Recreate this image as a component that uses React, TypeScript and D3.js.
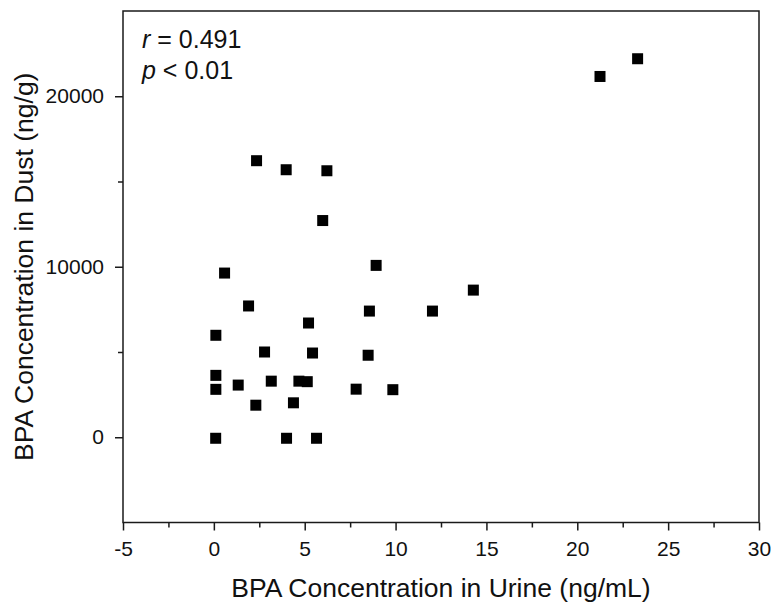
import React, { useEffect, useRef } from 'react';
import * as d3 from 'd3';

// BPA in urine (ng/mL) vs BPA in dust (ng/g)
const urine = [
  0.1, 4.0, 5.65, 0.59, 8.93, 1.91, 8.56, 12.03, 5.21, 0.11, 2.79, 5.43, 8.49,
  0.11, 0.11, 1.34, 3.16, 4.68, 5.14, 7.83, 9.85, 2.31, 4.38, 2.35, 3.98, 6.22,
  5.99, 23.32, 21.25, 14.28,
];
const dust = [
  -60, -60, -60, 9630, 10080, 7700, 7400, 7400, 6700, 5980, 5000, 4940, 4810,
  3630, 2810, 3060, 3290, 3290, 3260, 2820, 2790, 1880, 2020, 16220, 15690, 15630,
  12710, 22200, 21160, 8630,
];

const xMajor = [-5, 0, 5, 10, 15, 20, 25, 30];
const xMinor = [-2.5, 2.5, 7.5, 12.5, 17.5, 22.5, 27.5];
const yMajor = [0, 10000, 20000];
const yMinor = [5000, 15000];

const Chart = () => {
  const ref = useRef<SVGSVGElement>(null);

  useEffect(() => {
    const width = 773;
    const height = 603;
    const margin = { top: 11, right: 14, bottom: 80.5, left: 123 };
    const font = 'Liberation Sans, Arial, sans-serif';

    const svg = d3.select(ref.current);
    svg.selectAll('*').remove();
    svg.attr('width', width).attr('height', height);

    const x = d3.scaleLinear().domain([-5, 30]).range([margin.left, width - margin.right]);
    const y = d3.scaleLinear().domain([-5000, 25000]).range([height - margin.bottom, margin.top]);

    const axisColor = '#1a1a1a';

    // frame
    svg
      .append('rect')
      .attr('x', x(-5))
      .attr('y', y(25000))
      .attr('width', x(30) - x(-5))
      .attr('height', y(-5000) - y(25000))
      .attr('fill', 'none')
      .attr('stroke', axisColor)
      .attr('stroke-width', 1.5);

    // bottom axis
    const xAxis = svg
      .append('g')
      .attr('transform', `translate(0,${y(-5000)})`)
      .call(d3.axisBottom(x).tickValues(xMajor).tickSize(8).tickPadding(11).tickFormat((d) => String(d)));
    svg
      .append('g')
      .attr('transform', `translate(0,${y(-5000)})`)
      .call(d3.axisBottom(x).tickValues(xMinor).tickSize(5).tickFormat(() => ''));

    // left axis
    const yAxis = svg
      .append('g')
      .attr('transform', `translate(${x(-5)},0)`)
      .call(d3.axisLeft(y).tickValues(yMajor).tickSize(8).tickPadding(11).tickFormat((d) => String(d)));
    svg
      .append('g')
      .attr('transform', `translate(${x(-5)},0)`)
      .call(d3.axisLeft(y).tickValues(yMinor).tickSize(5).tickFormat(() => ''));

    svg.selectAll('.domain').remove();
    svg.selectAll('.tick line').attr('stroke', axisColor).attr('stroke-width', 1.5);
    [xAxis, yAxis].forEach((g) =>
      g
        .selectAll('text')
        .attr('font-family', font)
        .attr('font-size', 21)
        .attr('fill', '#111')
    );

    // points
    const side = 11;
    svg
      .append('g')
      .selectAll('rect')
      .data(urine.map((u, i) => [u, dust[i]]))
      .enter()
      .append('rect')
      .attr('x', (d) => x(d[0]) - side / 2)
      .attr('y', (d) => y(d[1]) - side / 2)
      .attr('width', side)
      .attr('height', side)
      .attr('fill', '#000');

    // axis titles
    svg
      .append('text')
      .attr('x', (x(-5) + x(30)) / 2)
      .attr('y', 597)
      .attr('text-anchor', 'middle')
      .attr('font-family', font)
      .attr('font-size', 26.5)
      .attr('fill', '#111')
      .text('BPA Concentration in Urine (ng/mL)');

    svg
      .append('text')
      .attr('transform', `translate(33,${(y(-5000) + y(25000)) / 2}) rotate(-90)`)
      .attr('text-anchor', 'middle')
      .attr('font-family', font)
      .attr('font-size', 26.5)
      .attr('fill', '#111')
      .text('BPA Concentration in Dust (ng/g)');

    // stats
    const r = svg
      .append('text')
      .attr('x', 142)
      .attr('y', 48)
      .attr('font-family', font)
      .attr('font-size', 25)
      .attr('fill', '#111');
    r.append('tspan').attr('font-style', 'italic').text('r');
    r.append('tspan').text(' = 0.491');

    const p = svg
      .append('text')
      .attr('x', 142)
      .attr('y', 79)
      .attr('font-family', font)
      .attr('font-size', 25)
      .attr('fill', '#111');
    p.append('tspan').attr('font-style', 'italic').text('p');
    p.append('tspan').text(' < 0.01');
  }, []);

  return <svg ref={ref} style={{ position: 'absolute', left: 0, top: 0 }} />;
};

const App = () => <Chart />;

export default App;
